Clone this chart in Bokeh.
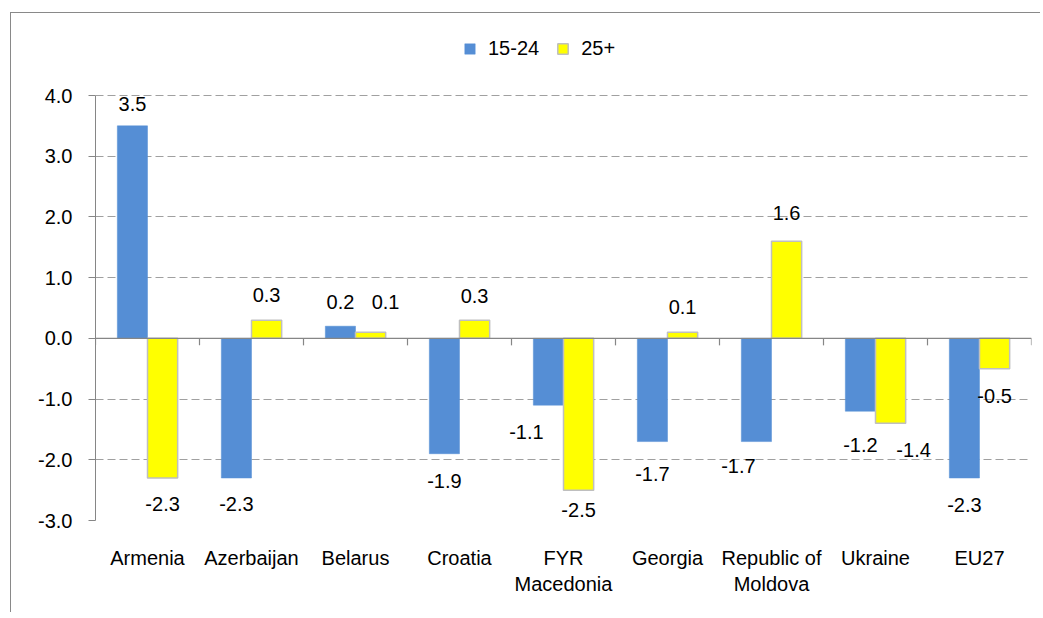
from bokeh.plotting import figure
from bokeh.models import (FactorRange, Range1d, FixedTicker, NumeralTickFormatter,
                          Span, Legend, LegendItem, ColumnDataSource)
from bokeh.transform import dodge
from bokeh.core.properties import value
from bokeh.embed import file_html
from bokeh.resources import INLINE

# ---------------- data ----------------
countries = ["Armenia", "Azerbaijan", "Belarus", "Croatia", "FYR\nMacedonia",
             "Georgia", "Republic of\nMoldova", "Ukraine", "EU27"]
youth = [3.5, -2.3, 0.2, -1.9, -1.1, -1.7, -1.7, -1.2, -2.3]   # 15-24
adult = [-2.3, 0.3, 0.1, 0.3, -2.5, 0.1, 1.6, -1.4, -0.5]      # 25+
series_names = ["15-24", "25+"]
y_ticks = [-3, -2, -1, 0, 1, 2, 3, 4]

# ---------------- label nudges (pixels, style only) ----------------
youth_dx = [0, 0, 0, 0, -22, 0, -18, 0, 0]
youth_dy = [-22, 26, -24, 27, 27, 32, 24, 34, 27]
adult_dx = [0, 0, 15, 0, 0, 0, 0, 23, 0]
adult_dy = [26, -25, -30, -24, 20, -25, -28, 27, 27]

FONT = "Liberation Sans"
BLUE = "#558ED5"
YELLOW = "#FFFF00"
AXIS_GRAY = "#868686"

# canvas geometry (canvas starts at page x=11, y=13 because of margin+border)
W, H = 1030, 600
ML, MR, MT, MB = 84, 10, 17, 93
frame_h = H - MT - MB            # 490 px
grid_px = 425                    # pixel height between lowest and highest tick
y_min = y_ticks[0]
y_max = y_ticks[-1] + (y_ticks[-1] - y_ticks[0]) * (frame_h - grid_px) / grid_px

src = ColumnDataSource(dict(
    country=countries,
    youth=youth, adult=adult,
    youth_lbl=["%.1f" % v for v in youth],
    adult_lbl=["%.1f" % v for v in adult],
    ydx=youth_dx, ydy=youth_dy, adx=adult_dx, ady=adult_dy,
))

p = figure(x_range=FactorRange(*countries), y_range=Range1d(y_min, y_max),
           width=W, height=H, output_backend="svg", toolbar_location=None,
           min_border_left=ML, min_border_right=MR, min_border_top=MT,
           min_border_bottom=MB)
p.styles = {"margin-left": "10px", "margin-top": "12px",
            "border-left": "1px solid #898989", "border-top": "1px solid #898989"}
p.outline_line_color = None
p.background_fill_color = "white"
p.border_fill_color = "white"

bw = 0.29
r1 = p.vbar(x=dodge("country", -bw / 2, range=p.x_range), top="youth", bottom=0,
            width=bw, source=src, fill_color=BLUE, line_color=BLUE, line_width=0.5)
r2 = p.vbar(x=dodge("country", bw / 2, range=p.x_range), top="adult", bottom=0,
            width=bw, source=src, fill_color=YELLOW, line_color="#BFBFBF", line_width=1.5)

# zero line with category boundary ticks
p.add_layout(Span(location=0, dimension="width", line_color=AXIS_GRAY, line_width=1.2))
bounds = list(range(len(countries) + 1))
tick_len = 7 * (y_ticks[-1] - y_ticks[0]) / grid_px
p.segment(x0=bounds, y0=[0] * len(bounds), x1=bounds, y1=[-tick_len] * len(bounds),
          line_color=AXIS_GRAY, line_width=1.2)

# data labels
p.text(x=dodge("country", -bw / 2, range=p.x_range), y="youth", text="youth_lbl",
       x_offset="ydx", y_offset="ydy", source=src, text_align="center",
       text_baseline="middle", text_font=value(FONT), text_font_size="20px",
       text_color="black")
p.text(x=dodge("country", bw / 2, range=p.x_range), y="adult", text="adult_lbl",
       x_offset="adx", y_offset="ady", source=src, text_align="center",
       text_baseline="middle", text_font=value(FONT), text_font_size="20px",
       text_color="black")

# axes
p.yaxis.ticker = FixedTicker(ticks=y_ticks)
p.yaxis.bounds = (y_ticks[0], y_ticks[-1])
p.yaxis.formatter = NumeralTickFormatter(format="0.0")
p.yaxis.axis_line_color = AXIS_GRAY
p.yaxis.major_tick_line_color = AXIS_GRAY
p.yaxis.major_tick_out = 7
p.yaxis.major_tick_in = 0
p.yaxis.minor_tick_line_color = None
p.yaxis.major_label_standoff = 16
p.yaxis.major_label_text_font = FONT
p.yaxis.major_label_text_font_size = "20px"
p.yaxis.major_label_text_color = "black"

p.xaxis.axis_line_color = None
p.xaxis.major_tick_line_color = None
p.xaxis.major_tick_out = 0
p.xaxis.major_tick_in = 0
p.xaxis.major_label_standoff = 26
p.xaxis.major_label_text_font = FONT
p.xaxis.major_label_text_font_size = "20px"
p.xaxis.major_label_text_color = "black"

p.xgrid.grid_line_color = None
p.ygrid.grid_line_color = "#A0A0A0"
p.ygrid.grid_line_dash = "8 4"
p.ygrid.grid_line_width = 1.2

legend = Legend(items=[LegendItem(label=series_names[0], renderers=[r1]),
                       LegendItem(label=series_names[1], renderers=[r2])],
                orientation="horizontal", location=(368, 460),
                glyph_width=13, glyph_height=13, label_standoff=12, spacing=17,
                padding=0, margin=0, border_line_color=None,
                background_fill_alpha=0,
                label_text_font=FONT, label_text_font_size="20px",
                label_text_color="black")
p.add_layout(legend)

open("out.html", "w").write(file_html(p, INLINE))
